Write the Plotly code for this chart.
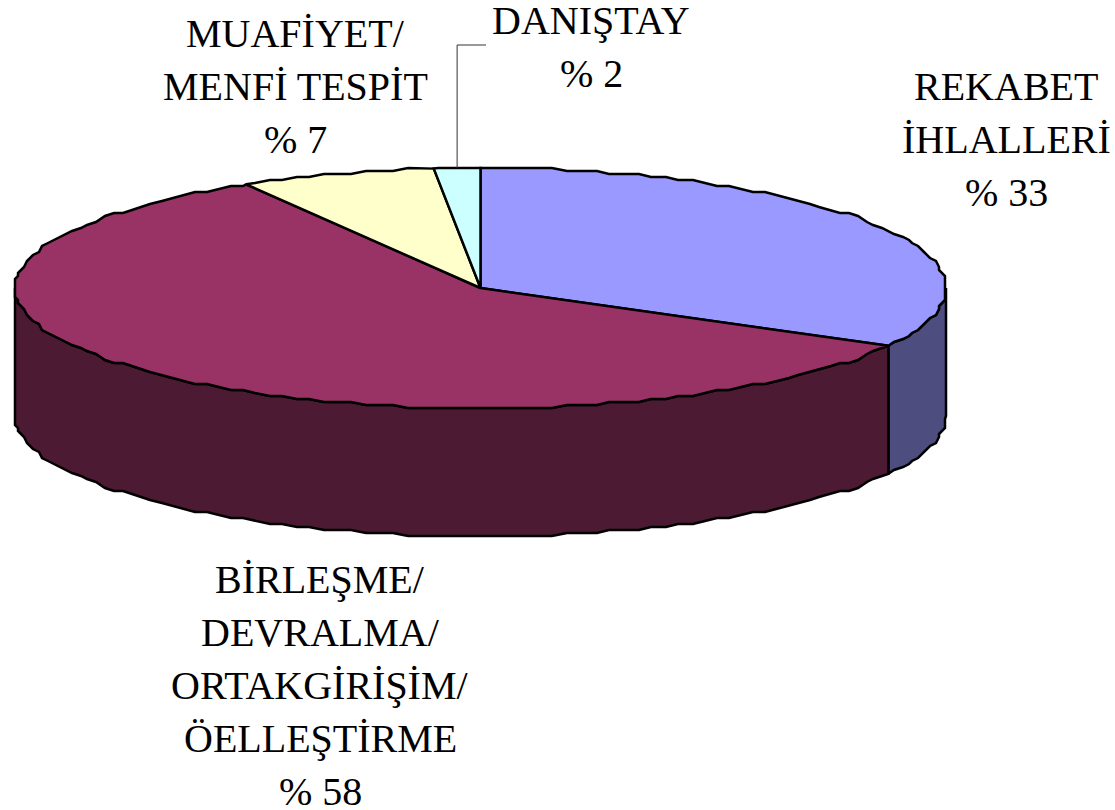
import numpy as np
import plotly.graph_objects as go

# Data
categories = ["REKABET İHLALLERİ", "BİRLEŞME/DEVRALMA/ORTAKGİRİŞİM/ÖELLEŞTİRME",
              "MUAFİYET/MENFİ TESPİT", "DANIŞTAY"]
shares = [33.0, 58.6, 6.8, 1.6]
label_percent = [33, 58, 7, 2]
label_lines = [["REKABET", "İHLALLERİ"],
               ["BİRLEŞME/", "DEVRALMA/", "ORTAKGİRİŞİM/", "ÖELLEŞTİRME"],
               ["MUAFİYET/", "MENFİ TESPİT"],
               ["DANIŞTAY"]]

# Styling and geometry
top_colors = ["#9999FF", "#993366", "#FFFFCC", "#CCFFFF"]
side_colors = ["#4D4D80", "#4D1A33", "#80806A", "#6A8080"]
label_x = [1006, 320, 295, 591]
label_first_y = [86, 579, 33, 20]
LINE_STEP = 53.2
CX, CY, A, B, DEPTH = 480.5, 288.0, 465.5, 120.0, 128.0
GRID = 3.0
STEP = 1.8
FONT = dict(family="Liberation Serif", size=40, color="black")


def arc(t0, t1, dy=0.0):
    lo, hi = min(t0, t1), max(t0, t1)
    inner = np.arange(np.ceil(lo / STEP) + (np.ceil(lo / STEP) * STEP == lo),
                      np.ceil(hi / STEP)) * STEP
    t = np.radians(inner)
    x = np.round((CX + A * np.sin(t)) / GRID) * GRID
    y = np.round((CY - B * np.cos(t)) / GRID) * GRID
    ends = np.radians([lo, hi])
    x = np.r_[CX + A * np.sin(ends[0]), x, CX + A * np.sin(ends[1])]
    y = np.r_[CY - B * np.cos(ends[0]), y, CY - B * np.cos(ends[1])] + dy
    return (x, y) if t0 <= t1 else (x[::-1], y[::-1])


fig = go.Figure()
edges = np.concatenate([[0], np.cumsum(shares)]) * 3.6


def poly(x, y, color):
    fig.add_trace(go.Scatter(x=x, y=y, mode="lines", fill="toself", fillcolor=color,
                             line=dict(color="black", width=2.5), hoverinfo="skip",
                             showlegend=False))


# Side walls: only the front half (90 to 270 degrees) is visible
for i in range(len(shares)):
    t0, t1 = max(edges[i], 90), min(edges[i + 1], 270)
    if t1 > t0:
        xa, ya = arc(t0, t1)
        xb, yb = arc(t1, t0, DEPTH)
        poly(np.r_[xa, xb, xa[0]], np.r_[ya, yb, ya[0]], side_colors[i])

# Top faces
for i in range(len(shares)):
    xa, ya = arc(edges[i], edges[i + 1])
    poly(np.r_[CX, xa, CX], np.r_[CY, ya, CY], top_colors[i])

# Leader line of the smallest slice
mid = np.radians((edges[3] + edges[4]) / 2)
lx = CX + A * np.sin(mid)
ly = CY - B * np.cos(mid)
fig.add_trace(go.Scatter(x=[lx, lx, 486], y=[ly, 45, 45], mode="lines",
                         line=dict(color="#333333", width=1), hoverinfo="skip", showlegend=False))

for lines, pct, x, y0 in zip(label_lines, label_percent, label_x, label_first_y):
    for k, text in enumerate(lines + [f"% {pct}"]):
        fig.add_annotation(x=x, y=y0 + k * LINE_STEP, text=text, showarrow=False,
                           xanchor="center", yanchor="middle", align="center", font=FONT)

fig.update_layout(width=1115, height=810, margin=dict(l=0, r=0, t=0, b=0),
                  paper_bgcolor="white", plot_bgcolor="white", showlegend=False,
                  xaxis=dict(range=[0, 1115], visible=False, fixedrange=True),
                  yaxis=dict(range=[810, 0], visible=False, fixedrange=True))
fig.write_html("out.html", config={"displayModeBar": False},
               post_script="document.body.style.margin='0';document.body.style.overflow='hidden';")
